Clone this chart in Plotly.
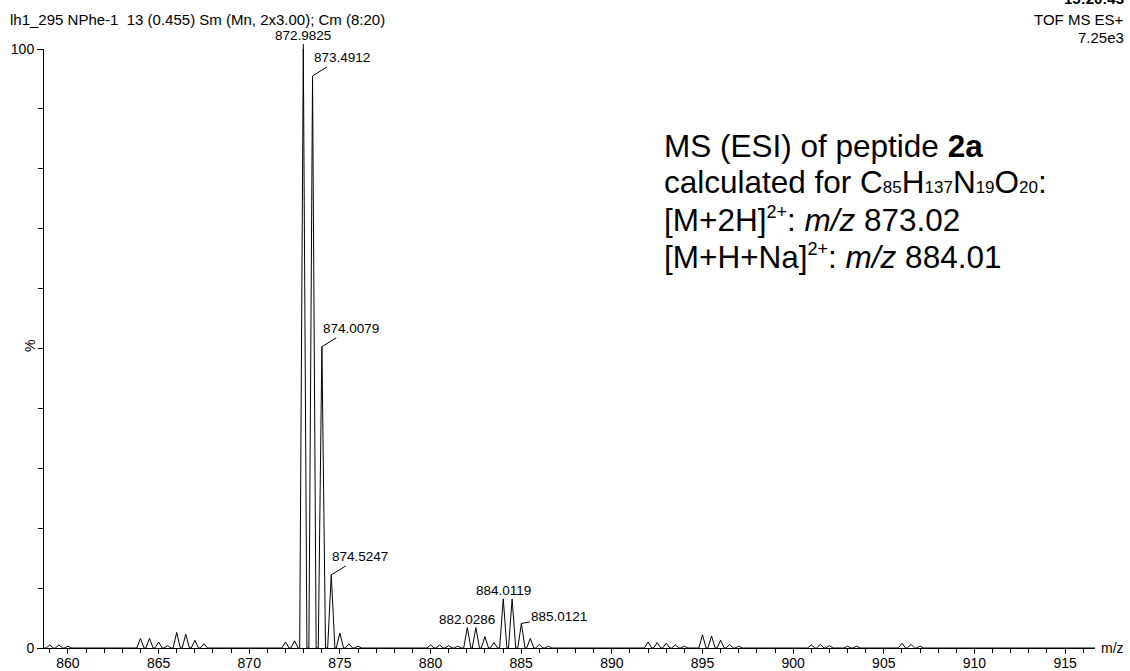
import plotly.graph_objects as go

# Centroided peaks of the spectrum (m/z, relative intensity %)
peak_mz = [
    859.0, 859.5, 860.0,
    864.0, 864.5, 865.0, 865.5, 866.0, 866.5, 867.0, 867.5,
    872.0, 872.5, 872.9825, 873.4912, 874.0079, 874.5247, 875.0, 875.5, 876.0,
    880.0, 880.5, 881.0, 881.5, 882.0286, 882.5, 883.0, 883.5,
    884.0119, 884.5, 885.0121, 885.5, 886.0, 886.5,
    892.0, 892.5, 893.0, 893.5, 894.0,
    895.0, 895.5, 896.0, 896.5, 897.0,
    901.0, 901.5, 902.0, 903.0, 903.5,
    906.0, 906.5, 907.0,
]
peak_int = [
    0.5, 0.5, 0.3,
    1.6, 1.6, 1.0, 0.4, 2.6, 2.3, 1.3, 0.7,
    1.0, 1.2, 100.0, 95.5, 50.3, 12.2, 2.5, 0.7, 0.3,
    0.5, 0.5, 0.4, 0.3, 3.4, 3.4, 1.9, 0.9,
    8.2, 8.2, 4.1, 1.6, 0.6, 0.3,
    1.0, 0.9, 0.8, 0.5, 0.3,
    2.2, 2.0, 1.3, 0.6, 0.3,
    0.5, 0.6, 0.4, 0.3, 0.3,
    0.8, 0.6, 0.3,
]

# Peaks that carry an m/z label
label_mz = [872.9825, 873.4912, 874.0079, 874.5247, 882.0286, 884.0119, 885.0121]

# Axis ticks
x_ticks = [860, 865, 870, 875, 880, 885, 890, 895, 900, 905, 910, 915]
y_ticks = [0, 100]

# ---- layout constants (pixels) ----
W, H = 1130, 671
ML, MR, MT, MB = 44, 35, 49, 23
PW, PH = W - ML - MR, H - MT - MB
X_RANGE = [858.68, 916.65]
HALF_WIDTH = 0.2          # drawn half-width of each profile peak at its base
FONT = "Arial, Liberation Sans, sans-serif"


def px_x(px):
    return (px - ML) / PW


def px_y(py):
    return (H - MB - py) / PH


# Profile trace: each peak rises from the baseline to its apex and back
prof_x, prof_y = [X_RANGE[0]], [0.0]
for mz, h in sorted(zip(peak_mz, peak_int)):
    prof_x += [mz - HALF_WIDTH, mz, mz + HALF_WIDTH]
    prof_y += [0.0, h, 0.0]
prof_x.append(X_RANGE[1])
prof_y.append(0.0)

fig = go.Figure()
fig.add_trace(go.Scatter(
    x=prof_x, y=prof_y, mode="lines",
    line=dict(color="black", width=1),
    hoverinfo="skip", showlegend=False, cliponaxis=False,
))

annotations = []

# Peak labels: offsets of the text centre from the apex, in pixels
label_style = {
    872.9825: dict(showarrow=True, ax=0, ay=-14),
    873.4912: dict(showarrow=True, ax=29, ay=-18),
    874.0079: dict(showarrow=True, ax=29, ay=-18),
    874.5247: dict(showarrow=True, ax=29, ay=-18),
    882.0286: dict(showarrow=False, yshift=8),
    884.0119: dict(showarrow=False, yshift=8),
    885.0121: dict(showarrow=True, ax=38, ay=-7),
}
for mz in label_mz:
    h = peak_int[peak_mz.index(mz)]
    st = label_style[mz]
    ann = dict(
        x=mz, y=h, xref="x", yref="y",
        text=f"{mz:.4f}",
        font=dict(family=FONT, size=13.5, color="black"),
        xanchor="center", yanchor="middle",
    )
    if st["showarrow"]:
        ann.update(showarrow=True, ax=st["ax"], ay=st["ay"], axref="pixel", ayref="pixel",
                   arrowhead=0, arrowwidth=1, arrowcolor="black", standoff=0)
    else:
        ann.update(showarrow=False, yshift=st["yshift"])
    annotations.append(ann)

# Header lines
annotations.append(dict(
    x=px_x(8), y=px_y(20), xref="paper", yref="paper",
    text="lh1_295 NPhe-1&nbsp;&nbsp;13 (0.455) Sm (Mn, 2x3.00); Cm (8:20)",
    showarrow=False, xanchor="left", yanchor="middle",
    font=dict(family=FONT, size=15, color="black"),
))
annotations.append(dict(
    x=px_x(1126), y=px_y(-1), xref="paper", yref="paper",
    text="<b>15:20:43</b>", showarrow=False, xanchor="right", yanchor="middle",
    font=dict(family=FONT, size=15, color="black"),
))
annotations.append(dict(
    x=px_x(1126), y=px_y(20), xref="paper", yref="paper",
    text="TOF MS ES+", showarrow=False, xanchor="right", yanchor="middle",
    font=dict(family=FONT, size=15, color="black"),
))
annotations.append(dict(
    x=px_x(1126), y=px_y(37), xref="paper", yref="paper",
    text="7.25e3", showarrow=False, xanchor="right", yanchor="middle",
    font=dict(family=FONT, size=15, color="black"),
))

# Axis captions
annotations.append(dict(
    x=px_x(1099), y=px_y(648), xref="paper", yref="paper",
    text="m/z", showarrow=False, xanchor="left", yanchor="middle",
    font=dict(family=FONT, size=14, color="black"),
))
annotations.append(dict(
    x=px_x(30), y=px_y(346), xref="paper", yref="paper",
    text="%", showarrow=False, xanchor="center", yanchor="middle", textangle=-90,
    font=dict(family=FONT, size=14, color="black"),
))

# Sample description block
sub = "<span style='font-size:17px'>{}</span>"
sup = "<sup><span style='font-size:18px'>{}</span></sup>"
info_lines = [
    "MS (ESI) of peptide <b>2a</b>",
    "calculated for C" + sub.format("85") + "H" + sub.format("137") + "N"
    + sub.format("19") + "O" + sub.format("20") + ":",
    "[M+2H]" + sup.format("2+") + ": <i>m/z</i> 873.02",
    "[M+H+Na]" + sup.format("2+") + ": <i>m/z</i> 884.01",
]
info_y = [146, 182, 220, 257]
for txt, py in zip(info_lines, info_y):
    annotations.append(dict(
        x=px_x(662), y=px_y(py), xref="paper", yref="paper",
        text=txt, showarrow=False, xanchor="left", yanchor="middle",
        font=dict(family=FONT, size=31.5, color="black"),
    ))

fig.update_layout(
    width=W, height=H,
    margin=dict(l=ML, r=MR, t=MT, b=MB, pad=0, autoexpand=False),
    paper_bgcolor="white", plot_bgcolor="white",
    font=dict(family=FONT, size=14, color="black"),
    annotations=annotations,
    xaxis=dict(
        range=X_RANGE, showgrid=False, zeroline=False, automargin=False,
        showline=True, linecolor="black", linewidth=1,
        tickmode="array", tickvals=x_ticks, ticktext=[str(v) for v in x_ticks],
        ticks="outside", ticklen=5, tickwidth=1, tickcolor="black",
        ticklabelstandoff=-3,
        minor=dict(dtick=1, tick0=860, ticks="outside", ticklen=4, tickcolor="black", showgrid=False),
        tickfont=dict(family=FONT, size=14),
    ),
    yaxis=dict(
        range=[0, 100], showgrid=False, zeroline=False, automargin=False,
        showline=True, linecolor="black", linewidth=1,
        tickmode="array", tickvals=y_ticks, ticktext=[str(v) for v in y_ticks],
        ticks="outside", ticklen=6, tickwidth=1, tickcolor="black",
        minor=dict(dtick=10, tick0=0, ticks="outside", ticklen=5, tickcolor="black", showgrid=False),
        tickfont=dict(family=FONT, size=14),
    ),
)

fig.write_html("out.html")
